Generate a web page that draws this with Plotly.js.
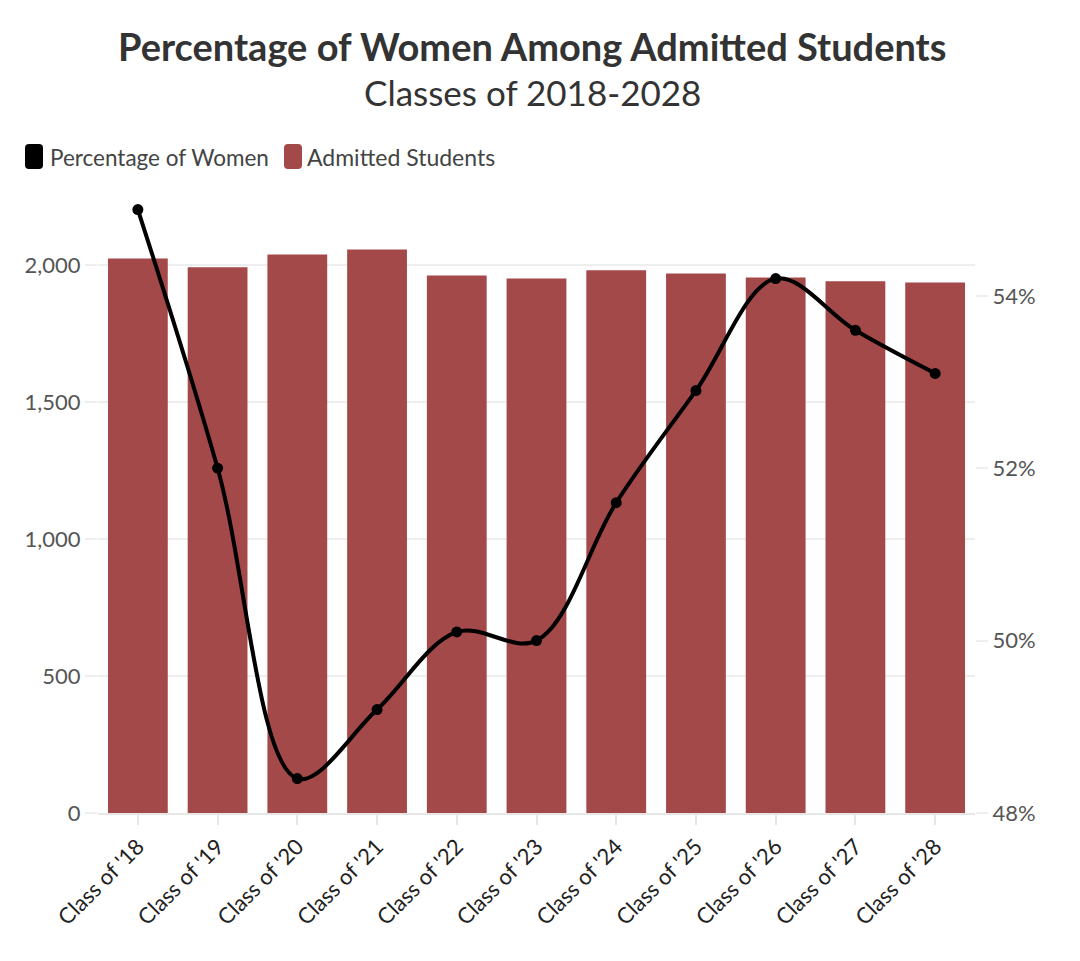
<!DOCTYPE html>
<html>
<head>
<meta charset="utf-8">
<script src="https://cdn.plot.ly/plotly-3.0.1.min.js"></script>
<style>
  html, body { margin: 0; padding: 0; background: #ffffff; }
  #chart { width: 1080px; height: 961px; }
</style>
</head>
<body>
<div id="chart"></div>
<script>
// ---- Data ----
const categories = ["Class of '18", "Class of '19", "Class of '20", "Class of '21", "Class of '22",
                    "Class of '23", "Class of '24", "Class of '25", "Class of '26", "Class of '27", "Class of '28"];
const admittedStudents = [2025, 1993, 2040, 2058, 1963, 1952, 1982, 1971, 1956, 1942, 1938];
const percentWomen = [55.0, 52.0, 48.4, 49.2, 50.1, 50.0, 51.6, 52.9, 54.2, 53.6, 53.1];
const leftTickVals = [0, 500, 1000, 1500, 2000];
const leftTickText = ["0", "500", "1,000", "1,500", "2,000"];
const rightTickVals = [48, 50, 52, 54];
const rightTickText = ["48%", "50%", "52%", "54%"];
const seriesNames = ["Percentage of Women", "Admitted Students"];

// ---- Layout geometry ----
const W = 1080, H = 961;
const M = { l: 98, r: 105, t: 197, b: 148 };
const PW = W - M.l - M.r, PH = H - M.t - M.b;
const px2x = px => (px - M.l) / PW;
const px2y = py => (H - M.b - py) / PH;

const FONT = "Lato, 'Source Sans Pro', 'Open Sans', sans-serif";
const barColor = "#a3494a";

function roundRect(x0, y0, x1, y1, r) {
  const X = v => px2x(v), Y = v => px2y(v);
  const rx = r / PW, ry = r / PH;
  const a = X(x0), b = X(x1), top = Y(y0), bot = Y(y1);
  return `M ${a + rx},${top} L ${b - rx},${top} Q ${b},${top} ${b},${top - ry} ` +
         `L ${b},${bot + ry} Q ${b},${bot} ${b - rx},${bot} L ${a + rx},${bot} ` +
         `Q ${a},${bot} ${a},${bot + ry} L ${a},${top - ry} Q ${a},${top} ${a + rx},${top} Z`;
}

const traces = [
  {
    type: 'bar',
    name: seriesNames[1],
    x: categories,
    y: admittedStudents,
    marker: { color: barColor, line: { width: 0 } },
    yaxis: 'y',
    showlegend: false,
    hoverinfo: 'x+y'
  },
  {
    type: 'scatter',
    mode: 'lines+markers',
    name: seriesNames[0],
    x: categories,
    y: percentWomen,
    yaxis: 'y2',
    line: { color: '#000000', width: 4, shape: 'spline', smoothing: 1 },
    marker: { color: '#000000', size: 11 },
    showlegend: false,
    cliponaxis: false
  }
];

const layout = {
  width: W, height: H,
  margin: M,
  paper_bgcolor: '#ffffff',
  plot_bgcolor: '#ffffff',
  font: { family: FONT, color: '#555555', size: 20 },
  bargap: 0.25,
  showlegend: false,
  xaxis: {
    type: 'category',
    automargin: false,
    range: [-0.5, categories.length - 0.5],
    tickangle: -45,
    tickfont: { family: FONT, size: 22, color: '#222222' },
    ticks: 'outside', ticklen: 10, tickcolor: '#e6e6e6', tickwidth: 2,
    showgrid: false,
    showline: true, linecolor: '#e6e6e6', linewidth: 2,
    zeroline: false
  },
  yaxis: {
    automargin: false,
    range: [0, 2250],
    tickvals: leftTickVals,
    ticktext: leftTickText,
    tickfont: { family: FONT, size: 22, color: '#555555' },
    ticks: 'outside', ticklen: 12, tickcolor: '#eeeeee', tickwidth: 2,
    showgrid: true, gridcolor: '#eeeeee', gridwidth: 2,
    zeroline: false,
    showline: false
  },
  yaxis2: {
    automargin: false,
    overlaying: 'y',
    side: 'right',
    range: [48, 48 + 616 / 86.2],
    tickvals: rightTickVals,
    ticktext: rightTickText,
    tickfont: { family: FONT, size: 22, color: '#555555' },
    ticks: 'outside', ticklen: 12, tickcolor: '#eeeeee', tickwidth: 2,
    showgrid: false,
    zeroline: false,
    showline: false
  },
  annotations: [
    {
      text: '<b>Percentage of Women Among Admitted Students</b>',
      xref: 'paper', yref: 'paper', x: px2x(532), y: px2y(46),
      xanchor: 'center', yanchor: 'middle', showarrow: false,
      font: { family: FONT, size: 38, color: '#333333' }
    },
    {
      text: 'Classes of 2018-2028',
      xref: 'paper', yref: 'paper', x: px2x(532), y: px2y(92),
      xanchor: 'center', yanchor: 'middle', showarrow: false,
      font: { family: FONT, size: 35, color: '#333333' }
    },
    {
      text: seriesNames[0],
      xref: 'paper', yref: 'paper', x: px2x(48), y: px2y(157),
      xanchor: 'left', yanchor: 'middle', showarrow: false,
      font: { family: FONT, size: 22.5, color: '#444444' }
    },
    {
      text: seriesNames[1],
      xref: 'paper', yref: 'paper', x: px2x(305), y: px2y(157),
      xanchor: 'left', yanchor: 'middle', showarrow: false,
      font: { family: FONT, size: 23, color: '#444444' }
    }
  ],
  shapes: [
    { type: 'path', xref: 'paper', yref: 'paper', path: roundRect(25, 144, 43, 169, 4),
      fillcolor: '#000000', line: { width: 0 } },
    { type: 'path', xref: 'paper', yref: 'paper', path: roundRect(284, 144, 302, 169, 4),
      fillcolor: barColor, line: { width: 0 } }
  ]
};

Plotly.newPlot('chart', traces, layout, { displayModeBar: false, staticPlot: true });
</script>
</body>
</html>
